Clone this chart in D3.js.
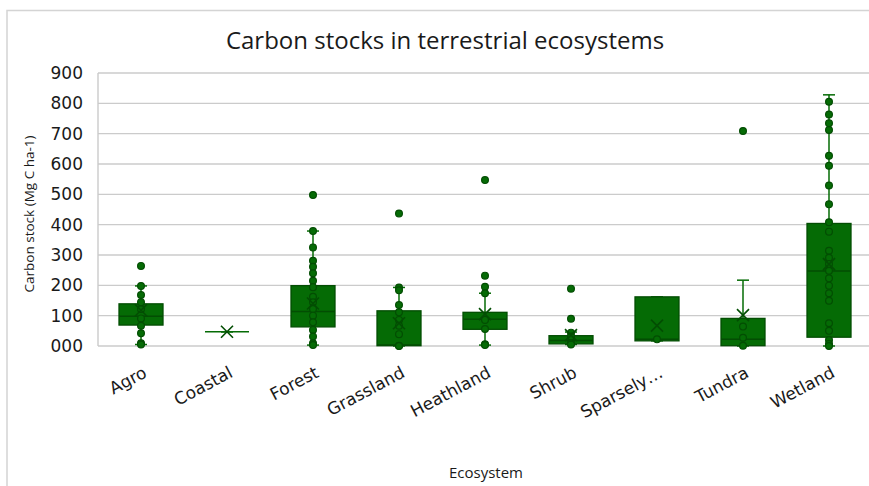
<!DOCTYPE html>
<html lang="en">
<head>
	<meta charset="UTF-8">
	<title>Carbon stocks</title>
	<script src="https://cdn.jsdelivr.net/npm/d3@7"></script>
	<style>
		body{ margin:0; background:#fff; }
		text{ fill:#1a1a1a; }
	</style>
</head>
<body>
	<svg id="svg"></svg>
	<script>
		// values (Mg C ha-1)
		var categories = ["Agro", "Coastal", "Forest", "Grassland", "Heathland", "Shrub", "Sparsely…", "Tundra", "Wetland"];
		var whiskerLow = [5, 47, 3, 0, 3, 5, 17, 0, 0];
		var q1 = [69, 47, 63, 1, 55, 7, 17, 1, 29];
		var median = [98, 47, 114, 3, 88, 18, 22, 22, 247];
		var q3 = [139, 47, 199, 116, 111, 34, 162, 91, 404];
		var whiskerHigh = [198, 47, 379, 193, 174, 46, 162, 217, 828];
		var means = [118, 47, 140, 75, 105, 36, 67, 102, 270];
		var points = [
			[264, 198, 168, 144, 121, 91, 67, 42, 9, 5],
			[],
			[498, 379, 325, 281, 261, 240, 215, 194, 162, 144, 122, 100, 78, 53, 31, 9, 3],
			[437, 193, 184, 135, 111, 86, 67, 39, 1, 0],
			[547, 232, 195, 174, 86, 56, 6, 3],
			[189, 90, 44, 31, 9, 5],
			[22],
			[709, 64, 27, 1],
			[805, 763, 734, 712, 627, 594, 529, 467, 408, 377, 314, 291, 270, 248, 223, 199, 174, 149, 75, 50, 20, 7, 0]
		];
		var yTicks = [0, 100, 200, 300, 400, 500, 600, 700, 800, 900];

		var w = 869, h = 486,
			plotLeft = 98, plotRight = 872, plotTop = 73, plotBottom = 346;
		var svg = d3.select("#svg").attr("width", w).attr("height", h);
		var green = "#056b05", dark = "#034d03";

		// chart frame (cropped on the right and bottom)
		svg.append("path")
			.attr("d", "M7," + h + "V10.5H" + w)
			.attr("fill", "none").attr("stroke", "#d4d4d4").attr("stroke-width", 1.5);

		var x = d3.scaleBand().domain(categories).range([plotLeft, plotRight]);
		var y = d3.scaleLinear().domain([0, 900]).range([plotBottom, plotTop]);

		// gridlines
		svg.append("g").selectAll("line").data(yTicks).enter().append("line")
			.attr("x1", plotLeft).attr("x2", plotRight)
			.attr("y1", function(d) { return y(d); }).attr("y2", function(d) { return y(d); })
			.attr("stroke", "#cbcbcb").attr("stroke-width", 1.4);
		svg.append("line").attr("x1", plotLeft).attr("x2", plotLeft).attr("y1", plotTop).attr("y2", plotBottom)
			.attr("stroke", "#cbcbcb").attr("stroke-width", 1.4);

		// y axis labels
		var yAxis = svg.append("g").attr("transform", "translate(" + (plotLeft - 12) + ",0)")
			.call(d3.axisLeft(y).tickValues(yTicks).tickFormat(d3.format("03d")).tickSize(0));
		yAxis.select(".domain").remove();
		yAxis.selectAll("text")
			.attr("font-family", "DejaVu Sans").attr("font-size", 17).attr("fill", "#1a1a1a");

		// x axis labels
		svg.append("g").selectAll("text").data(categories).enter().append("text")
			.attr("transform", function(d) { return "translate(" + (x(d) + x.bandwidth() / 2 + 1) + ",365) rotate(-28)"; })
			.attr("text-anchor", "end").attr("dy", "0.75em")
			.attr("font-family", "DejaVu Sans").attr("font-size", 17)
			.text(function(d) { return d; });

		// boxes
		var bw = 44, cap = 12;
		var g = svg.append("g").selectAll("g").data(categories).enter().append("g")
			.attr("transform", function(d) { return "translate(" + (x(d) + x.bandwidth() / 2) + ",0)"; });

		g.append("line")
			.attr("y1", function(d, i) { return y(whiskerLow[i]); })
			.attr("y2", function(d, i) { return y(whiskerHigh[i]); })
			.attr("stroke", green).attr("stroke-width", 1.5);
		g.append("line").attr("x1", -cap / 2).attr("x2", cap / 2)
			.attr("y1", function(d, i) { return y(whiskerHigh[i]); })
			.attr("y2", function(d, i) { return y(whiskerHigh[i]); })
			.attr("stroke", green).attr("stroke-width", 1.5);
		g.append("line").attr("x1", -cap / 2).attr("x2", cap / 2)
			.attr("y1", function(d, i) { return y(whiskerLow[i]); })
			.attr("y2", function(d, i) { return y(whiskerLow[i]); })
			.attr("stroke", green).attr("stroke-width", 1.5);
		g.append("rect")
			.attr("x", -bw / 2).attr("width", bw)
			.attr("y", function(d, i) { return y(q3[i]); })
			.attr("height", function(d, i) { return y(q1[i]) - y(q3[i]); })
			.attr("fill", green).attr("stroke", dark).attr("stroke-width", 1.3);
		g.append("line").attr("x1", -bw / 2).attr("x2", bw / 2)
			.attr("y1", function(d, i) { return y(median[i]); })
			.attr("y2", function(d, i) { return y(median[i]); })
			.attr("stroke", function(d, i) { return q1[i] === q3[i] ? green : dark; }).attr("stroke-width", 1.5);

		// points
		g.selectAll("circle").data(function(d, i) { return points[i]; }).enter().append("circle")
			.attr("cy", function(v) { return y(v); }).attr("r", 3.4)
			.attr("fill", green).attr("stroke", dark).attr("stroke-width", 1.2);

		// mean markers
		g.append("path")
			.attr("d", function(d, i) {
				var m = y(means[i]), s = 6;
				return "M" + (-s) + "," + (m - s) + "L" + s + "," + (m + s) + "M" + (-s) + "," + (m + s) + "L" + s + "," + (m - s);
			})
			.attr("stroke", dark).attr("stroke-width", 1.6).attr("fill", "none");

		// titles
		svg.append("text").attr("x", 445).attr("y", 49).attr("text-anchor", "middle")
			.attr("font-family", "Open Sans").attr("font-size", 24)
			.text("Carbon stocks in terrestrial ecosystems");
		svg.append("text").attr("transform", "translate(34,214) rotate(-90)")
			.attr("text-anchor", "middle")
			.attr("font-family", "Open Sans").attr("font-size", 13.5)
			.text("Carbon stock (Mg C ha-1)");
		svg.append("text").attr("x", 486).attr("y", 478).attr("text-anchor", "middle")
			.attr("font-family", "Open Sans").attr("font-size", 15)
			.text("Ecosystem");
	</script>
</body>
</html>
